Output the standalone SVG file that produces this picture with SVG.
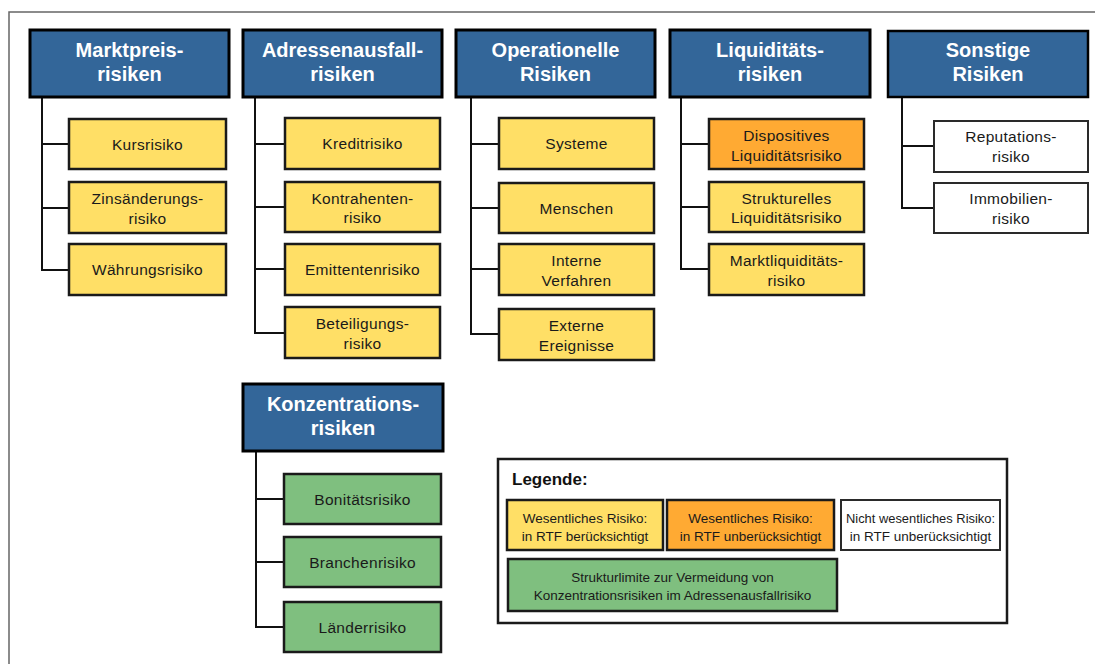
<svg xmlns="http://www.w3.org/2000/svg" width="1095" height="664" viewBox="0 0 1095 664">
<style>
.frame{fill:none;stroke:#666;stroke-width:1.5}
.hdr{fill:#336699;stroke:#000;stroke-width:3}
.ht{font-family:"Liberation Sans",Arial,sans-serif;font-size:20px;font-weight:bold;fill:#fff;text-anchor:middle}
.y{fill:#FFDF66;stroke:#1a1a1a;stroke-width:2.5}
.o{fill:#FFAA33;stroke:#1a1a1a;stroke-width:2.5}
.g{fill:#7FBF7F;stroke:#1a1a1a;stroke-width:2.5}
.w{fill:#fff;stroke:#2a2a2a;stroke-width:2}
.t{font-family:"Liberation Sans",Arial,sans-serif;font-size:15.5px;letter-spacing:0.3px;fill:#1a1a1a;text-anchor:middle}
.lt{font-family:"Liberation Sans",Arial,sans-serif;font-size:13.5px;fill:#1a1a1a;text-anchor:middle}
.conn{fill:none;stroke:#111;stroke-width:2}
</style>
<rect x="0" y="0" width="1095" height="664" fill="#fff"/>
<path class="frame" d="M9,664 V12 H1095"/>

<g id="connectors">
<path class="conn" d="M42,97 V270 H69 M42,144 H69 M42,208 H69"/>
<path class="conn" d="M255,97 V333 H285 M255,144 H285 M255,207 H285 M255,269 H285"/>
<path class="conn" d="M471,97 V334 H499 M471,144 H499 M471,208 H499 M471,269 H499"/>
<path class="conn" d="M681,97 V269 H709 M681,144 H709 M681,207 H709"/>
<path class="conn" d="M902,97 V208 H934 M902,146 H934"/>
<path class="conn" d="M256,451 V627 H284 M256,499 H284 M256,562 H284"/>
</g>

<g id="h-markt"><rect class="hdr" x="30" y="30" width="199" height="67"/>
<text class="ht" x="129.5" y="57">Marktpreis-</text><text class="ht" x="129.5" y="81">risiken</text></g>
<g id="h-adress"><rect class="hdr" x="243" y="30" width="199" height="67"/>
<text class="ht" x="342.5" y="57">Adressenausfall-</text><text class="ht" x="342.5" y="81">risiken</text></g>
<g id="h-oper"><rect class="hdr" x="456" y="30" width="199" height="67"/>
<text class="ht" x="555.5" y="57">Operationelle</text><text class="ht" x="555.5" y="81">Risiken</text></g>
<g id="h-liquid"><rect class="hdr" x="670" y="30" width="200" height="67"/>
<text class="ht" x="770" y="57">Liquiditäts-</text><text class="ht" x="770" y="81">risiken</text></g>
<g id="h-sonst"><rect class="hdr" x="888" y="31" width="200" height="66" style="stroke-width:2.5"/>
<text class="ht" x="988" y="57">Sonstige</text><text class="ht" x="988" y="81">Risiken</text></g>
<g id="h-konz"><rect class="hdr" x="243" y="384" width="200" height="67"/>
<text class="ht" x="343" y="411">Konzentrations-</text><text class="ht" x="343" y="435">risiken</text></g>

<g id="kurs"><rect class="y" x="69" y="119" width="157" height="50"/><text class="t" x="147.5" y="149.5">Kursrisiko</text></g>
<g id="zins"><rect class="y" x="69" y="182" width="157" height="51"/><text class="t" x="147.5" y="204">Zinsänderungs-</text><text class="t" x="147.5" y="224">risiko</text></g>
<g id="waehrung"><rect class="y" x="69" y="244" width="157" height="51"/><text class="t" x="147.5" y="275">Währungsrisiko</text></g>

<g id="kredit"><rect class="y" x="285" y="118" width="155" height="51"/><text class="t" x="362.5" y="149">Kreditrisiko</text></g>
<g id="kontrahenten"><rect class="y" x="285" y="182" width="155" height="50"/><text class="t" x="362.5" y="203.5">Kontrahenten-</text><text class="t" x="362.5" y="223">risiko</text></g>
<g id="emittenten"><rect class="y" x="285" y="244" width="155" height="51"/><text class="t" x="362.5" y="275">Emittentenrisiko</text></g>
<g id="beteiligung"><rect class="y" x="285" y="307" width="155" height="51"/><text class="t" x="362.5" y="329">Beteiligungs-</text><text class="t" x="362.5" y="349">risiko</text></g>

<g id="systeme"><rect class="y" x="499" y="118" width="155" height="51"/><text class="t" x="576.5" y="149">Systeme</text></g>
<g id="menschen"><rect class="y" x="499" y="183" width="155" height="50"/><text class="t" x="576.5" y="213.5">Menschen</text></g>
<g id="interne"><rect class="y" x="499" y="244" width="155" height="51"/><text class="t" x="576.5" y="266">Interne</text><text class="t" x="576.5" y="286">Verfahren</text></g>
<g id="externe"><rect class="y" x="499" y="309" width="155" height="51"/><text class="t" x="576.5" y="331">Externe</text><text class="t" x="576.5" y="351">Ereignisse</text></g>

<g id="dispositives"><rect class="o" x="709" y="119" width="155" height="50"/><text class="t" x="786.5" y="141">Dispositives</text><text class="t" x="786.5" y="161">Liquiditätsrisiko</text></g>
<g id="strukturelles"><rect class="y" x="709" y="182" width="155" height="50"/><text class="t" x="786.5" y="203.5">Strukturelles</text><text class="t" x="786.5" y="223">Liquiditätsrisiko</text></g>
<g id="marktliq"><rect class="y" x="709" y="244" width="155" height="51"/><text class="t" x="786.5" y="266">Marktliquiditäts-</text><text class="t" x="786.5" y="286">risiko</text></g>

<g id="reputation"><rect class="w" x="934" y="121" width="154" height="51"/><text class="t" x="1011" y="142">Reputations-</text><text class="t" x="1011" y="162">risiko</text></g>
<g id="immobilien"><rect class="w" x="934" y="183" width="154" height="50"/><text class="t" x="1011" y="204">Immobilien-</text><text class="t" x="1011" y="224">risiko</text></g>

<g id="bonitaet"><rect class="g" x="284" y="474" width="157" height="50"/><text class="t" x="362.5" y="504.5">Bonitätsrisiko</text></g>
<g id="branchen"><rect class="g" x="284" y="537" width="157" height="50"/><text class="t" x="362.5" y="567.5">Branchenrisiko</text></g>
<g id="laender"><rect class="g" x="284" y="602" width="157" height="50"/><text class="t" x="362.5" y="632.5">Länderrisiko</text></g>

<g id="legend">
<rect x="498" y="459" width="509" height="164" fill="#fff" stroke="#1a1a1a" stroke-width="2.5"/>
<text x="512" y="485" font-family="'Liberation Sans',Arial,sans-serif" font-size="17" font-weight="bold" fill="#111">Legende:</text>
<rect class="y" x="507" y="500" width="156" height="50"/><text class="lt" x="585" y="523">Wesentliches Risiko:</text><text class="lt" x="585" y="541">in RTF berücksichtigt</text>
<rect class="o" x="667" y="500" width="167" height="50"/><text class="lt" x="750.5" y="523">Wesentliches Risiko:</text><text class="lt" x="750.5" y="541">in RTF unberücksichtigt</text>
<rect class="w" x="841" y="500" width="159" height="50"/><text class="lt" x="920.5" y="523" textLength="149" lengthAdjust="spacingAndGlyphs">Nicht wesentliches Risiko:</text><text class="lt" x="920.5" y="541">in RTF unberücksichtigt</text>
<rect class="g" x="508" y="559" width="329" height="52"/><text class="lt" x="672.5" y="582">Strukturlimite zur Vermeidung von</text><text class="lt" x="672.5" y="600">Konzentrationsrisiken im Adressenausfallrisiko</text>
</g>
</svg>
